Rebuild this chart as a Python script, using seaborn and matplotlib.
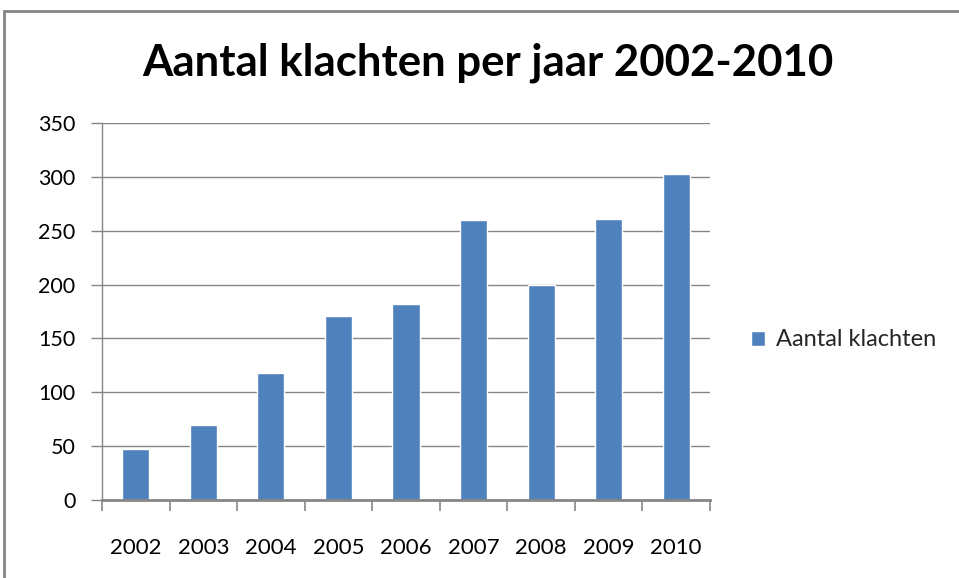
import matplotlib

matplotlib.use("Agg")
import matplotlib.pyplot as plt  # noqa: E402
import numpy as np  # noqa: E402
import pandas as pd  # noqa: E402
import seaborn as sns  # noqa: E402
from matplotlib.patches import Rectangle  # noqa: E402

years = ["2002", "2003", "2004", "2005", "2006", "2007", "2008", "2009", "2010"]
klachten = [47, 70, 118, 171, 182, 260, 200, 261, 303]
y_ticks = [0, 50, 100, 150, 200, 250, 300, 350]
series_name = "Aantal klachten"
title = "Aantal klachten per jaar 2002-2010"

BAR = "#4F81BD"
GRID = "#868686"

sns.set_theme(style="white")
plt.rcParams["font.family"] = ["Lato", "DejaVu Sans"]

df = pd.DataFrame({"jaar": years, "aantal": klachten})

fig = plt.figure(figsize=(9.59, 5.78), dpi=100)
ax = fig.add_axes([102 / 959, 1 - 500 / 578, 608 / 959, 377 / 578])

sns.barplot(data=df, x="jaar", y="aantal", color=BAR, width=0.4,
            saturation=1, label=series_name, ax=ax)

ax.set_xlim(-0.5, len(years) - 0.5)
ax.set_ylim(0, 350)
ax.set_yticks(y_ticks)
ax.yaxis.grid(True, color=GRID, lw=1)
ax.set_axisbelow(True)
ax.set_xlabel("")
ax.set_ylabel("")

for side in ("top", "right"):
    ax.spines[side].set_visible(False)
ax.spines["left"].set_color(GRID)
ax.spines["left"].set_linewidth(1)
ax.spines["bottom"].set_color(GRID)
ax.spines["bottom"].set_linewidth(2)

ax.tick_params(axis="y", direction="out", length=8, width=1, color=GRID,
               pad=11, labelsize=15.5, labelcolor="black", left=True)
ax.tick_params(axis="x", which="major", length=0, pad=27,
               labelsize=16, labelcolor="black")
ax.set_xticks(np.arange(-0.5, len(years)), minor=True)
ax.tick_params(axis="x", which="minor", direction="out", length=8,
               width=1.2, color=GRID, bottom=True)

fig.text(488 / 959, 1 - 63 / 578, title, ha="center", va="center",
         fontsize=31.5, fontweight="bold", color="black")

ax.legend(loc="center left", bbox_to_anchor=(751 / 959, 1 - 340 / 578),
          bbox_transform=fig.transFigure, frameon=False, fontsize=17,
          handlelength=0.6, handleheight=0.6, handletextpad=0.45,
          borderpad=0, borderaxespad=0)

fig.patches.append(Rectangle((4 / 959, -0.1), 1.1, 1.1 - 11 / 578,
                             transform=fig.transFigure, fill=False,
                             edgecolor=GRID, lw=2, clip_on=False))

fig.savefig("out.png", dpi=100)
